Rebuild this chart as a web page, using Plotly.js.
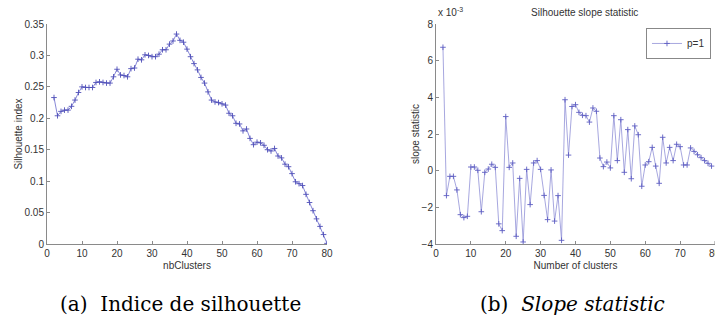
<!DOCTYPE html>
<html>
<head>
<meta charset="utf-8">
<script src="https://cdn.plot.ly/plotly-3.0.1.min.js"></script>
<style>html,body{margin:0;padding:0;background:#fff;}#chart{width:715px;height:320px;}</style>
</head>
<body>
<div id="chart"></div>
<script>
// ---- data ----
const nbClusters = [2,3,4,5,6,7,8,9,10,11,12,13,14,15,16,17,18,19,20,21,22,23,24,25,26,27,28,29,30,31,32,33,34,35,36,37,38,39,40,41,42,43,44,45,46,47,48,49,50,51,52,53,54,55,56,57,58,59,60,61,62,63,64,65,66,67,68,69,70,71,72,73,74,75,76,77,78,79,80];
const silhouetteIndex = [0.233,0.204,0.211,0.213,0.213,0.219,0.229,0.241,0.250,0.249,0.249,0.249,0.257,0.258,0.257,0.256,0.256,0.266,0.278,0.269,0.268,0.266,0.279,0.280,0.294,0.293,0.301,0.300,0.298,0.298,0.302,0.309,0.309,0.318,0.323,0.334,0.324,0.321,0.310,0.298,0.287,0.277,0.265,0.256,0.242,0.229,0.226,0.225,0.223,0.221,0.208,0.204,0.192,0.191,0.180,0.183,0.168,0.158,0.162,0.161,0.157,0.150,0.148,0.152,0.140,0.137,0.127,0.123,0.112,0.099,0.096,0.093,0.079,0.066,0.053,0.040,0.028,0.015,0.001];
const slopeClusters = [2,3,4,5,6,7,8,9,10,11,12,13,14,15,16,17,18,19,20,21,22,23,24,25,26,27,28,29,30,31,32,33,34,35,36,37,38,39,40,41,42,43,44,45,46,47,48,49,50,51,52,53,54,55,56,57,58,59,60,61,62,63,64,65,66,67,68,69,70,71,72,73,74,75,76,77,78,79];
// slope statistic, in units of 1e-3
const slopeStatistic = [6.73,-1.36,-0.31,-0.31,-1.05,-2.4,-2.56,-2.49,0.2,0.2,0.02,-2.24,-0.09,0.09,0.35,0.18,-2.9,-3.27,2.95,0.18,0.42,-3.58,-0.42,-3.89,0.07,-1.85,0.42,0.55,0.07,-1.35,-2.67,0.04,-2.75,-1.36,-3.8,3.87,0.85,3.5,3.6,3.18,3.02,3.0,2.65,3.42,3.24,0.69,0.22,0.47,0.15,3.0,0.55,2.78,-0.09,2.24,-0.44,2.44,1.96,-0.85,0.31,0.49,1.27,0.25,-0.69,1.82,0.42,1.27,0.55,1.44,1.31,0.31,0.31,1.24,1.05,0.87,0.71,0.55,0.4,0.25];
const xTicks = [0,10,20,30,40,50,60,70];
const xTicksA = [0,10,20,30,40,50,60,70,80];
const yTicksA = [0,0.05,0.1,0.15,0.2,0.25,0.3,0.35];
const yTickTextA = ['0','0.05','0.1','0.15','0.2','0.25','0.3','0.35'];
const yTicksB = [-4,-2,0,2,4,6,8];
const lastTickB = 80;
const legendName = 'p=1';

// ---- styling ----
const axisFont = {family:'Liberation Sans, Arial, sans-serif', size:10, color:'#333'};
const lineCol = '#8a8a8a';
const baseAxis = {showgrid:false, zeroline:false, showline:true, linecolor:lineCol, linewidth:1,
  ticks:'inside', ticklen:3, tickcolor:lineCol, tickfont:axisFont, mirror:false, fixedrange:true};

const traces = [
  {x:nbClusters, y:silhouetteIndex, xaxis:'x', yaxis:'y', type:'scatter', mode:'lines+markers',
   showlegend:false, line:{color:'rgb(105,105,205)', width:0.8},
   marker:{symbol:'cross-thin', size:4, line:{color:'rgb(80,80,185)', width:0.9}}},
  {x:slopeClusters, y:slopeStatistic, xaxis:'x2', yaxis:'y2', type:'scatter', mode:'lines+markers',
   name:legendName, showlegend:true, line:{color:'rgb(145,145,215)', width:0.8},
   marker:{symbol:'cross-thin', size:4, line:{color:'rgb(95,95,195)', width:0.9}}}
];

const layout = {
  width:715, height:320,
  margin:{l:47, r:0, t:24, b:76},
  paper_bgcolor:'#fff', plot_bgcolor:'#fff',
  font:axisFont,
  title:{text:'Silhouette slope statistic', font:axisFont, x:0.805, xanchor:'center', xref:'paper', y:0.9625, yanchor:'middle'},
  xaxis:Object.assign({}, baseAxis, {domain:[0,0.4192], range:[0,80], tickvals:xTicksA, anchor:'y',
    title:{text:'nbClusters', font:axisFont, standoff:3}}),
  yaxis:Object.assign({}, baseAxis, {domain:[0,1], range:[0,0.35], tickvals:yTicksA, ticktext:yTickTextA, anchor:'x',
    title:{text:'Silhouette index', font:axisFont, standoff:0}}),
  xaxis2:Object.assign({}, baseAxis, {domain:[0.5823,1], range:[0,80], tickvals:xTicks, anchor:'y2',
    title:{text:'Number of clusters', font:axisFont, standoff:3}}),
  yaxis2:Object.assign({}, baseAxis, {domain:[0,1], range:[-4,8], tickvals:yTicksB, anchor:'x2',
    title:{text:'slope statistic', font:axisFont, standoff:0}}),
  shapes:[
    {type:'line', xref:'x2', yref:'y2', x0:lastTickB, x1:lastTickB, y0:-4, y1:-3.84, line:{color:lineCol, width:1}}
  ],
  legend:{x:0.994, xanchor:'right', y:0.982, yanchor:'top', bgcolor:'#fff', bordercolor:'#888', borderwidth:1,
    font:axisFont, itemwidth:30, tracegroupgap:0},
  annotations:[
    {text:String(lastTickB), xref:'x2', yref:'paper', x:lastTickB, xanchor:'center', y:-0.008, yanchor:'top', showarrow:false, font:axisFont},
    {text:'x 10<sup>-3</sup>', xref:'paper', yref:'paper', x:0.5823, xanchor:'left', y:1.02, yanchor:'bottom', showarrow:false, font:axisFont},
    {text:'(a)  Indice de silhouette', xref:'paper', yref:'paper', x:0.2005, xanchor:'center', y:-0.273, yanchor:'middle', showarrow:false,
     font:{family:'DejaVu Serif, serif', size:20, color:'#000'}},
    {text:'(b)  <i>Slope statistic</i>', xref:'paper', yref:'paper', x:0.787, xanchor:'center', y:-0.273, yanchor:'middle', showarrow:false,
     font:{family:'DejaVu Serif, serif', size:20, color:'#000'}}
  ]
};

Plotly.newPlot('chart', traces, layout, {displayModeBar:false, staticPlot:true});
</script>
</body>
</html>
